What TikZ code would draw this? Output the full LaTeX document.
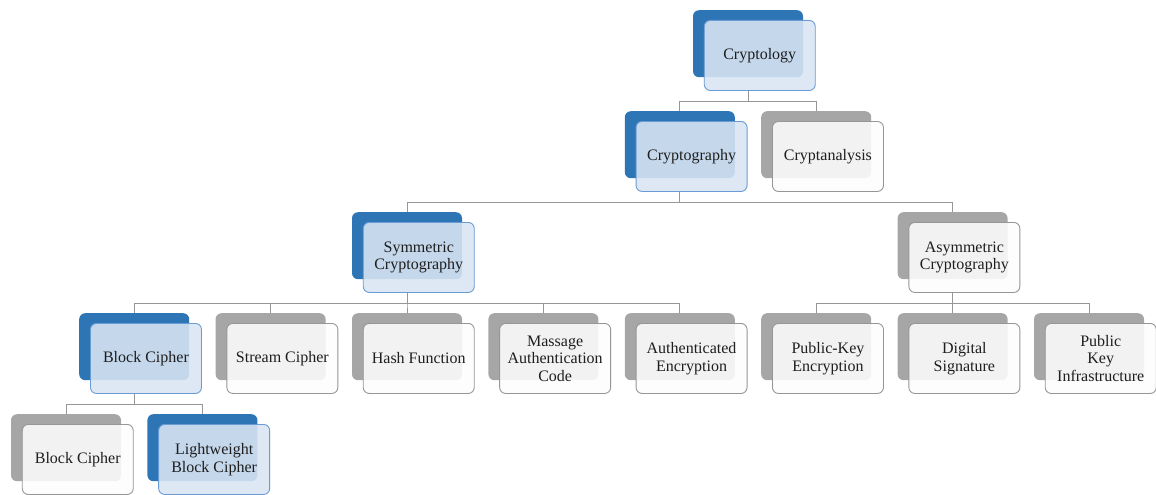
\documentclass[tikz,border=0pt]{standalone}
\usepackage{fontspec}
\setmainfont{Liberation Serif}
\definecolor{blueback}{RGB}{46,117,182}
\definecolor{bluefront}{RGB}{218,229,243}
\definecolor{blueline}{RGB}{105,155,212}
\definecolor{grayback}{RGB}{166,166,166}
\definecolor{grayfront}{RGB}{253,253,253}
\definecolor{grayline}{RGB}{150,150,150}
\definecolor{linecol}{RGB}{150,150,150}
\definecolor{txt}{RGB}{30,30,30}
\tikzset{
  backbox/.style={draw=none, rounded corners=6pt, minimum width=110pt, minimum height=67pt, inner sep=0pt, anchor=north west},
  backB/.style={backbox, fill=blueback},
  backG/.style={backbox, fill=grayback},
  frontbox/.style={fill opacity=0.88, text opacity=1, line width=0.9pt, rounded corners=6pt,
    minimum width=111pt, minimum height=70pt, inner sep=1pt, anchor=north west, align=center,
    font=\fontsize{16}{17.5}\selectfont, text=txt},
  frontB/.style={frontbox, fill=bluefront, draw=blueline},
  frontG/.style={frontbox, fill=grayfront, draw=grayline},
  conn/.style={draw=linecol, line width=1pt}
}
% #1 name, #2 column index, #3 row index, #4 B or G, #5 text
\newcommand\blk[5]{%
  \node[back#4] (#1b) at ({79+136.4*(#2)}, {10+101*(#3)}) {};
  \node[front#4] (#1) at ({79+136.4*(#2)+11}, {20+101*(#3)}) {#5};
}
\newcommand\link[2]{\draw[conn] (#1b.south |- #1.south) -- ++(0,10.5) -| (#2b.north);}
\begin{document}
\begin{tikzpicture}[x=1pt,y=-1pt]
\useasboundingbox (0,0) rectangle (1156,495);
\blk{cryptology}{4.5}{0}{B}{Cryptology}
\blk{cryptography}{4}{1}{B}{Cryptography}
\blk{cryptanalysis}{5}{1}{G}{Cryptanalysis}
\blk{sym}{2}{2}{B}{Symmetric\\Cryptography}
\blk{asym}{6}{2}{G}{Asymmetric\\Cryptography}
\blk{block}{0}{3}{B}{Block Cipher}
\blk{stream}{1}{3}{G}{Stream Cipher}
\blk{hash}{2}{3}{G}{Hash Function}
\blk{mac}{3}{3}{G}{Massage\\Authentication\\Code}
\blk{ae}{4}{3}{G}{Authenticated\\Encryption}
\blk{pke}{5}{3}{G}{Public-Key\\Encryption}
\blk{ds}{6}{3}{G}{Digital\\Signature}
\blk{pki}{7}{3}{G}{Public\\Key\\Infrastructure}
\blk{bc}{-0.5}{4}{G}{Block Cipher}
\blk{lbc}{0.5}{4}{B}{Lightweight\\Block Cipher}
\link{cryptology}{cryptography}
\link{cryptology}{cryptanalysis}
\link{cryptography}{sym}
\link{cryptography}{asym}
\link{sym}{block}
\link{sym}{stream}
\link{sym}{hash}
\link{sym}{mac}
\link{sym}{ae}
\link{asym}{pke}
\link{asym}{ds}
\link{asym}{pki}
\link{block}{bc}
\link{block}{lbc}
\end{tikzpicture}
\end{document}
